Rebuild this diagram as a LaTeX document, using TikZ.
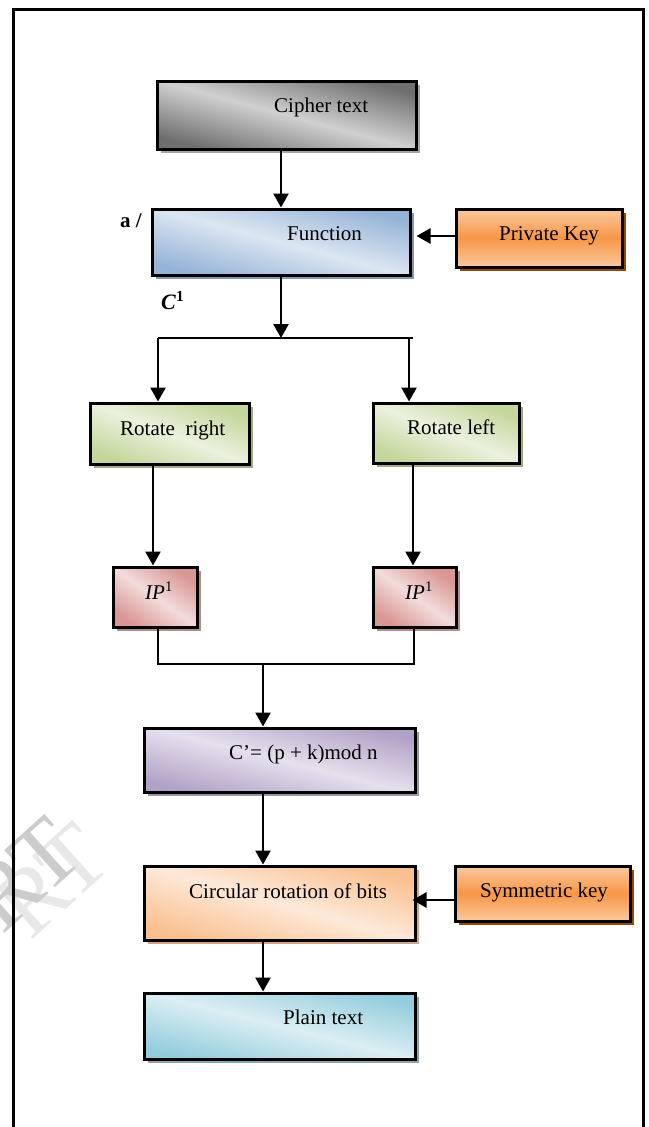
\documentclass[tikz,border=0pt]{standalone}
\usepackage{fontspec}
\setmainfont{Liberation Serif}
\usetikzlibrary{arrows.meta,shadows,calc}
\definecolor{grayD}{HTML}{6E6E6E}\definecolor{grayL}{HTML}{D0D0D0}\definecolor{grayS}{HTML}{A6A6A6}
\definecolor{blueD}{HTML}{95B3D7}\definecolor{blueL}{HTML}{DCE6F2}\definecolor{blueS}{HTML}{8497B0}
\definecolor{orgD}{HTML}{F79646}\definecolor{orgL}{HTML}{FBC9A0}\definecolor{orgS}{HTML}{984806}
\definecolor{grnD}{HTML}{C3D69B}\definecolor{grnL}{HTML}{EBF1DE}\definecolor{grnS}{HTML}{9DAA86}
\definecolor{pnkD}{HTML}{D99694}\definecolor{pnkL}{HTML}{F2DCDB}\definecolor{pnkS}{HTML}{B48C8B}
\definecolor{purD}{HTML}{B2A1C7}\definecolor{purL}{HTML}{E5E0EC}\definecolor{purS}{HTML}{9C93A8}
\definecolor{pchD}{HTML}{FAC090}\definecolor{pchL}{HTML}{FDE9D9}\definecolor{pchS}{HTML}{D2A488}
\definecolor{cyD}{HTML}{93CDDD}\definecolor{cyL}{HTML}{DBEEF3}\definecolor{cyS}{HTML}{8CA5AD}
\begin{document}
\begin{tikzpicture}[x=1pt,y=-1pt,
  box/.style={draw=black,line width=3pt,inner sep=0pt},
  diag/.style n args={3}{top color=#1,bottom color=#1,middle color=#2,shading angle=#3},
  band/.style 2 args={top color=#2,bottom color=#2,middle color=#1},
  shad/.style={drop shadow={shadow xshift=4pt,shadow yshift=-4pt,fill=#1,opacity=1}},
  lbl/.style={font=\fontsize{21}{25}\selectfont,inner sep=0pt,anchor=base west},
  arr/.style={line width=2.6pt,-{Triangle[length=14pt,width=15pt]}},
  ln/.style={line width=2.6pt},
  wmk/.style={font=\fontsize{94}{94}\selectfont,rotate=42,inner sep=0pt}
]
\useasboundingbox (0,0) rectangle (648,1127);
% watermark fragment
\node[wmk,text=black!9] (wm2) at (52,880) {RT};
\node[wmk,text=black!20] (wm) at (24,874) {RT};
% frame
\draw[line width=3pt] (13,1135) -- (13,9) -- (643,9) -- (643,1135);

% boxes
\node[box,minimum width=259pt,minimum height=68pt,shad=grayS,diag={grayD}{grayL}{-15}] (cipher) at (286.5,115) {};
\node[box,minimum width=258pt,minimum height=66pt,shad=blueS,diag={blueD}{blueL}{-15}] (func) at (281,242) {};
\node[box,minimum width=166pt,minimum height=58pt,shad=orgS,band={orgD}{orgL}] (pkey) at (539,238) {};
\node[box,minimum width=159pt,minimum height=61pt,shad=grnS,diag={grnD}{grnL}{-21}] (rright) at (169.5,433.5) {};
\node[box,minimum width=146pt,minimum height=60pt,shad=grnS,diag={grnD}{grnL}{-22}] (rleft) at (446,433) {};
\node[box,minimum width=84pt,minimum height=60pt,shad=pnkS,diag={pnkD}{pnkL}{-35}] (ipl) at (155,597) {};
\node[box,minimum width=83pt,minimum height=60pt,shad=pnkS,diag={pnkD}{pnkL}{-35}] (ipr) at (414.5,597) {};
\node[box,minimum width=271pt,minimum height=64pt,shad=purS,diag={purD}{purL}{-14}] (cmod) at (279.5,760) {};
\node[box,minimum width=271pt,minimum height=74pt,shad=pchS,diag={pchD}{pchL}{-16}] (circ) at (279.5,903) {};
\node[box,minimum width=175pt,minimum height=55pt,shad=orgS,band={orgD}{orgL}] (skey) at (542.5,893.5) {};
\node[box,minimum width=271pt,minimum height=66pt,shad=cyS,diag={cyD}{cyL}{-14}] (plain) at (279.5,1026) {};

% labels
\node[lbl] (tcipher) at (274,112) {Cipher text};
\node[lbl] (tfunc) at (287,240) {Function};
\node[lbl] (tpkey) at (499,240) {Private Key};
\node[lbl] (trright) at (120,435) {Rotate\ \ right};
\node[lbl] (trleft) at (407,434) {Rotate left};
\node[lbl] (tipl) at (145,599) {\textit{IP}\textsuperscript{1}};
\node[lbl] (tipr) at (405,599) {\textit{IP}\textsuperscript{1}};
\node[lbl] (tcmod) at (229,759) {C’= (p + k)mod n};
\node[lbl] (tcirc) at (189,898) {Circular rotation of bits};
\node[lbl] (tskey) at (480,897) {Symmetric key};
\node[lbl] (tplain) at (283,1024) {Plain text};
\node[lbl,font=\fontsize{21}{25}\selectfont\bfseries] (ta) at (120,227) {a /};
\node[lbl,font=\fontsize{22}{26}\selectfont\bfseries] (tc) at (161,309) {\textit{C}\textsuperscript{1}};

% junction coordinates
\coordinate (split) at (281,338);
\coordinate (splitL) at (158,338);
\coordinate (splitR) at (413,338);
\coordinate (mergeL) at (158,664);
\coordinate (mergeR) at (414,664);
\coordinate (merge) at (263,664);

% connectors
\draw[arr] (cipher.south -| split) -- (func.north -| split);
\draw[arr,shorten >=5pt] (pkey.west |- 0,236) -- (func.east |- 0,236);
\draw[arr] (func.south -| split) -- (split);
\draw[ln] (splitL) -- (splitR);
\draw[arr] (splitL) -- (rright.north -| splitL);
\draw[arr] (409,338) -- (rleft.north -| 409,0);
\draw[arr] (rright.south -| 153,0) -- (ipl.north -| 153,0);
\draw[arr] (rleft.south -| 413,0) -- (ipr.north -| 413,0);
\draw[ln] (ipl.south -| mergeL) -- (mergeL) -- (mergeR) -- (ipr.south -| mergeR);
\draw[arr] (merge) -- (cmod.north -| merge);
\draw[arr] (cmod.south -| merge) -- (circ.north -| merge);
\draw[arr,shorten >=-4pt] (skey.west |- 0,900) -- (circ.east |- 0,900);
\draw[arr] (circ.south -| merge) -- (plain.north -| merge);
\end{tikzpicture}
\end{document}
